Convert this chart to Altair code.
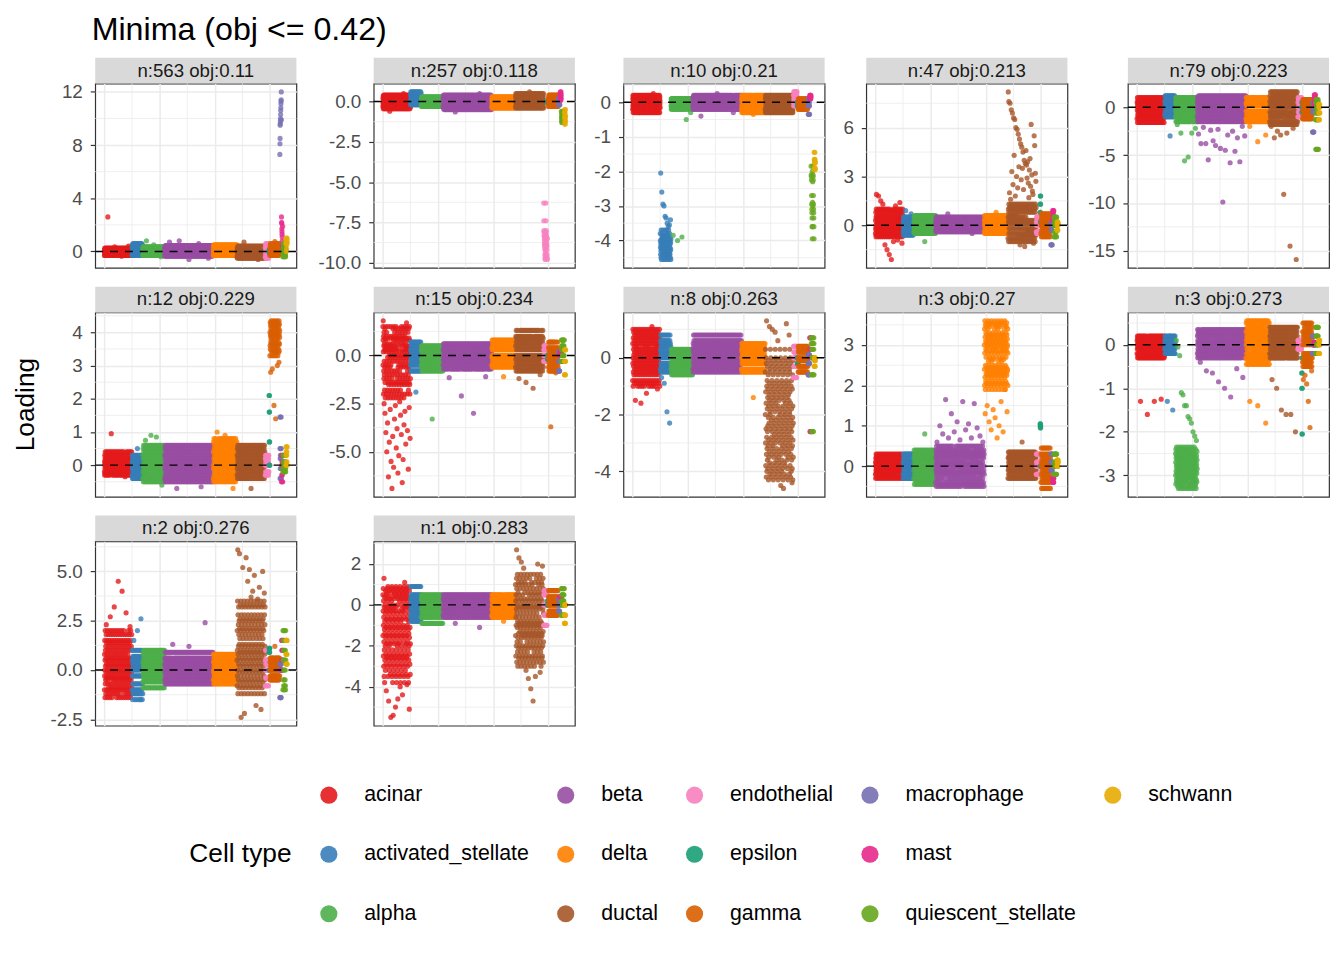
import altair as alt
import pandas as pd

# ---------------- data ----------------
TYPES = ["acinar", "activated_stellate", "alpha", "beta", "delta", "ductal",
         "endothelial", "epsilon", "gamma", "macrophage", "mast",
         "quiescent_stellate", "schwann"]
CODES = ["ac", "as_", "al", "be", "de", "du", "en", "ep", "ga", "ma", "mt", "qs", "sc"]
COLORS = ["#E41A1C", "#377EB8", "#4DAF4A", "#984EA3", "#FF7F00", "#A65628",
          "#F781BF", "#1B9E77", "#D95F02", "#7570B3", "#E7298A", "#66A61E", "#E6AB02"]
# cells per type (x extent, cells ordered by type) and number of points drawn
TYPE_CELLS = [500, 195, 395, 880, 430, 510, 70, 15, 180, 30, 25, 55, 25]
TYPE_SHOWN = [250, 98, 198, 440, 215, 255, 35, 8, 90, 15, 12, 27, 12]

PANEL_N = [563, 257, 10, 47, 79, 12, 15, 8, 3, 3, 2, 1]
PANEL_OBJ = ["0.11", "0.118", "0.21", "0.213", "0.223", "0.229", "0.234",
             "0.263", "0.27", "0.273", "0.276", "0.283"]
PANEL_TICKS = [[0, 4, 8, 12], [-10, -7.5, -5, -2.5, 0], [-4, -3, -2, -1, 0],
               [0, 3, 6], [-15, -10, -5, 0], [0, 1, 2, 3, 4], [-5, -2.5, 0],
               [-4, -2, 0], [0, 1, 2, 3], [-3, -2, -1, 0], [-2.5, 0, 2.5, 5],
               [-4, -2, 0, 2]]
PANEL_FMT = ["d", ".1f", "d", "d", "d", "d", ".1f", "d", "d", "d", ".1f", "d"]
X_MAJOR = [0, 1000, 2000, 3000]
X_MINOR = [500, 1500, 2500]

# main = dense band (cycled over the cells of a type), extra = single points
P01 = dict(
    ac=[-0.3, 0.1, -0.1, 0.25, -0.2, 0.0, 0.2, -0.25, 0.1, -0.05],
    as_=[-0.3, 0.3, 0.0, 0.5, -0.2, 0.15, 0.4, -0.1, 0.6],
    al=[-0.3, 0.2, 0.0, 0.35, -0.2, 0.1, -0.1, 0.3],
    be=[-0.35, 0.2, 0.0, 0.4, -0.2, 0.1, 0.3, -0.1, 0.45, -0.3],
    de=[-0.3, 0.3, 0.0, 0.45, -0.2, 0.1, 0.5, -0.1, 0.2],
    du=[-0.45, 0.1, -0.3, 0.3, -0.1, 0.2, -0.5, 0.0, 0.4, -0.2],
    en=[-0.4, 0.3, 0.0, 0.5, -0.2, 0.6, -0.5, 0.2],
    ep=[0.0, 0.1, -0.1],
    ga=[-0.3, 0.3, 0.0, 0.5, -0.2, 0.2, 0.6, 0.1, -0.1, 0.4],
    ma=[7.3, 8.1, 8.5, 9.5, 9.6, 9.8, 10.0, 10.3, 10.6, 10.8, 11.1, 11.3, 11.4, 12.0, 9.9],
    mt=[2.6, 2.2, 2.1, 1.7, 1.5, 1.3, 1.1, 0.8, 0.5, 0.2, 1.9, 0.3],
    qs=[-0.4, 0.2, 0.0, 0.6, -0.2, 0.4, 0.1, -0.3],
    sc=[0.6, 0.9, 1.0, 0.7, 0.0, 0.8, 0.2, 0.5])
O01 = dict(ac=[2.6, 0.35, -0.35, 0.4], al=[0.8, 0.5, -0.4], be=[0.7, 0.8, -0.6, 0.6, -0.5],
           du=[0.7, -0.6], ga=[0.75])

P02 = dict(
    ac=[-0.3, 0.2, -0.1, 0.35, -0.45, 0.0, 0.1, -0.2, 0.4, -0.35],
    as_=[0.0, 0.4, -0.2, 0.6, 0.2, -0.1, 0.5, 0.1, 0.3],
    al=[-0.2, 0.1, -0.3, 0.2, 0.0, -0.1, 0.3, -0.25],
    be=[-0.3, 0.2, 0.0, 0.4, -0.4, 0.1, -0.1, 0.3, -0.5, -0.2],
    de=[-0.3, 0.1, -0.1, 0.3, -0.4, 0.2, 0.0, -0.2],
    du=[-0.3, 0.3, 0.0, 0.5, -0.4, 0.2, -0.1, 0.4, -0.2, 0.1],
    en=[-6.3, -7.4, -8.0, -8.1, -8.3, -8.4, -8.6, -8.8, -8.9, -9.0, -9.2, -9.5,
        -9.7, -9.8, -8.5, -9.1, -8.2, -9.4, -8.7, -9.6],
    ep=[0.0, -0.1, 0.1],
    ga=[-0.3, 0.2, 0.0, 0.4, -0.2, 0.1, 0.3, -0.1],
    ma=[0.0, 0.2, -0.2, 0.1],
    mt=[0.5, 0.3, 0.1, 0.6, 0.2, 0.4],
    qs=[-0.6, -1.0, -1.2, -0.8, -1.3, -0.7, -0.9, -1.1],
    sc=[-0.7, -1.0, -1.4, -0.5, -1.2, -0.9])
O02 = dict(ac=[-0.6, 0.5], be=[-0.65, 0.5], du=[0.6])

P03 = dict(
    ac=[-0.2, 0.1, -0.1, 0.2, 0.0, -0.3, 0.15, -0.05, 0.05, -0.15],
    as_=[-3.8, -4.0, -4.2, -4.4, -3.9, -4.1, -4.3, -4.5, -3.7, -4.05, -4.25, -4.55,
         -3.95, -4.15, -4.35, -3.85, -4.45],
    al=[-0.1, 0.1, -0.2, 0.05, 0.0, -0.15, 0.1, -0.05],
    be=[-0.1, 0.1, -0.2, 0.15, 0.0, -0.05, 0.2, -0.15, 0.05],
    de=[-0.2, 0.1, -0.1, 0.2, -0.3, 0.0, 0.05, -0.25],
    du=[-0.2, 0.1, -0.3, 0.2, 0.0, -0.1, 0.15, -0.25],
    en=[0.0, 0.2, -0.1, 0.3, 0.1],
    ep=[0.0, -0.1],
    ga=[-0.2, 0.0, 0.1, -0.1, 0.05, -0.15],
    ma=[0.1, -0.1, -0.35, 0.0],
    mt=[0.1, 0.2, 0.15],
    qs=[-1.85, -2.1, -2.15, -2.25, -2.7, -2.95, -3.1, -3.2, -3.35, -3.6, -3.95,
        -2.0, -3.6, -2.9, -2.3, -3.0],
    sc=[-1.45, -1.65, -1.7, -1.9, -1.95, -1.75])
O03 = dict(ac=[-0.3, 0.25], as_=[-2.05, -2.6, -2.95, -3.0, -3.3, -3.35, -3.5, -3.6, -3.55, -3.4],
           al=[-3.85, -4.0, -3.9, -0.5, -0.3], be=[-0.4, 0.25, -0.3], de=[-0.35])

P04 = dict(
    ac=[-0.5, 0.3, -0.2, 0.8, 0.0, -0.7, 0.5, -0.3, 1.0, 0.2, -0.6, 0.6, 0.1, -0.1,
        0.4, -0.4, 0.9],
    as_=[-0.4, 0.2, -0.6, 0.5, 0.0, -0.2, 0.3, -0.5, 0.1],
    al=[-0.4, 0.2, -0.2, 0.5, 0.0, -0.5, 0.3, -0.1, 0.6],
    be=[-0.3, 0.2, 0.0, 0.4, -0.4, 0.1, 0.5, -0.2, 0.3, -0.1],
    de=[-0.4, 0.3, 0.0, 0.6, -0.5, 0.1, 0.4, -0.2, 0.2, -0.3],
    du=[-0.8, 0.5, -0.3, 1.0, 0.2, -1.0, 0.8, 0.0, 1.3, -0.5, 0.3, -0.2, 0.6, -0.6,
        1.1, 0.1],
    en=[-0.4, 0.2, 0.0, 0.5, -0.5, 0.3],
    ep=[0.8, 1.3, 1.8, 0.2],
    ga=[-0.5, 0.3, 0.0, 0.7, -0.7, 0.2, 0.5, -0.3, 0.1, -0.1],
    ma=[-1.2, 0.0, 0.2, -0.3],
    mt=[0.3, 0.9, 0.6, 0.8, 0.4],
    qs=[-0.7, 0.5, 0.0, -0.4, 0.3, 0.1],
    sc=[-0.3, 0.2, 0.0, 0.1])
O04 = dict(ac=[1.9, 1.8, 1.5, 1.3, -1.2, -1.5, -1.8, -2.1, -1.0, 1.2, -0.9, 1.4, -1.1],
           as_=[0.9, 0.7], al=[-1.0], be=[0.7, -0.5], de=[0.8],
           du=[8.2, 7.6, 2.0, 7.5, 1.6, 7.1, 3.3, 6.9, 2.5, 6.6, 4.3, 6.5, 1.8, 6.0, 3.0,
               5.9, 2.3, 5.6, 3.6, 5.3, -1.2, 5.0, 2.8, 4.8, 3.5, 4.5, 2.2, 4.0, -1.3, 3.8,
               4.6, 3.7, 2.9, 3.9, 2.6, 1.7, 3.4, 4.1, 2.4, 6.2, 3.1, 2.1, 1.9, -1.1, 5.5,
               4.9, 3.2, 2.7])

P05 = dict(
    ac=[-1.2, 0.5, -0.3, 1.0, -1.6, 0.2, -0.8, 0.7, 0.0, -0.5, 0.4, -1.0],
    as_=[-0.8, 0.6, 0.0, 1.2, -0.5, 0.3, -1.0, 0.9],
    al=[-1.0, 0.5, -0.3, 1.0, -1.5, 0.2, -0.6, 0.7],
    be=[-1.0, 0.5, -0.3, 1.0, -1.5, 0.2, -0.7, 0.8, 0.0, -1.2, 1.2],
    de=[-1.2, 0.4, -0.4, 1.0, -1.5, 0.2, -0.8, 0.6],
    du=[-1.5, 0.6, -0.5, 1.2, -1.8, 0.2, -1.0, 1.6, 0.0, -0.7, 0.9],
    en=[-1.0, 0.5, 0.0, 1.0, -0.5, 0.8],
    ep=[0.0, -0.5, 0.5],
    ga=[-1.2, 0.4, -0.3, 0.8, -0.8, 0.2],
    ma=[-2.6, 0.0, 0.5, -0.5],
    mt=[0.5, 1.3, 0.9, 1.1, 0.2],
    qs=[-1.3, 0.5, -4.4, 0.0, -0.6, 0.8],
    sc=[-1.3, 0.3, 0.0, -0.6])
O05 = dict(as_=[-3.0], al=[-1.8, -2.7, -5.6, -5.2, -2.7, -2.2],
           be=[-2.8, -3.8, -2.1, -3.8, -5.5, -2.4, -3.5, -4.0, -2.3, -4.3, -9.9, -4.5,
               -2.9, -5.8, -2.5, -4.6, -3.2, -5.7, -2.0, -3.0],
           de=[-2.0, -3.6, -2.9],
           du=[-2.0, -3.2, -2.5, -2.9, -9.1, -2.7, -14.5, -2.2, -15.9])

P06 = dict(
    ac=[-0.2, 0.1, -0.3, 0.3, 0.0, -0.1, 0.2, 0.4, -0.25, 0.05, 0.15, -0.05],
    as_=[-0.3, 0.1, -0.1, 0.3, -0.4, 0.0, 0.2, -0.2],
    al=[-0.4, 0.3, -0.2, 0.5, 0.0, -0.5, 0.2, 0.6, -0.1, 0.4, -0.3, 0.1],
    be=[-0.4, 0.3, -0.1, 0.5, 0.0, -0.5, 0.2, 0.6, -0.3, 0.1, -0.2, 0.4],
    de=[-0.4, 0.4, -0.1, 0.7, 0.0, -0.5, 0.2, 0.8, -0.3, 0.5, 0.1, -0.2, 0.6, 0.3],
    du=[-0.3, 0.3, -0.1, 0.5, 0.0, -0.4, 0.2, 0.6, 0.1, -0.2, 0.4],
    en=[-0.3, 0.2, 0.0, 0.3, -0.2, 0.1],
    ep=[2.1, 1.6, 0.7, 0.0],
    ga=[3.3, 4.0, 3.6, 4.3, 3.5, 3.9, 4.2, 3.4, 3.7, 4.1, 3.8, 4.35, 3.45, 3.95, 4.25,
        3.65, 3.85, 4.05],
    ma=[1.45, 0.5, -0.4, 0.2, -0.1, 0.3],
    mt=[-0.5, 0.3, -0.3, 0.0, 0.1],
    qs=[-0.2, 0.3, 0.0, 0.1, -0.1],
    sc=[0.0, 0.55, 0.3, 0.4, 0.1])
O06 = dict(ac=[0.95, -0.35], as_=[0.5], al=[0.75, 0.9, 0.85, -0.6], be=[-0.7, -0.65],
           de=[1.0, 0.9, -0.7], du=[-0.7], ga=[2.8, 2.9, 1.8, 1.4, 3.0, 3.1])

P07 = dict(
    ac=[1.5, -0.5, 0.8, -1.5, 0.2, -2.0, 1.0, -0.8, 0.5, -1.2, 1.2, 0.0, -0.3, -1.0,
        0.6, -1.8, 0.3, -0.6, 1.4, -0.1, -1.4, 0.9, -2.2, 0.4],
    as_=[-0.5, 0.3, -0.2, 0.7, 0.0, -0.8, 0.5, -0.4, 0.2],
    al=[-0.5, 0.3, -0.2, 0.5, 0.0, -0.8, 0.2, -0.4, 0.4, -0.6],
    be=[-0.5, 0.3, -0.2, 0.6, 0.0, -0.7, 0.4, -0.3, 0.2, -0.1],
    de=[-0.5, 0.4, -0.1, 0.8, 0.0, -0.6, 0.3, 0.6, -0.3],
    du=[-0.6, 0.5, -0.2, 1.0, 0.0, -0.8, 0.7, 1.3, -0.4, 0.3, 0.9, -0.1],
    en=[-0.3, 0.3, 0.0, 0.5],
    ep=[0.0, -0.2],
    ga=[-0.6, 0.4, -0.2, 0.7, 0.0, -0.8, 0.2, -0.4],
    ma=[-0.8, 0.2, -0.3],
    mt=[0.0, 0.2, 0.1],
    qs=[-0.3, 0.8, 0.3, 0.5, 0.0],
    sc=[-1.0, -0.3, 0.3])
O07 = dict(ac=[1.8, -2.5, -3.0, -4.0, -5.0, -3.5, -6.3, -4.5, -2.8, -5.5, -6.9, -4.2,
               -5.8, -3.3, -2.6, -4.8, -3.8, -6.1, -5.2, -2.4, -3.1, -4.1, -6.6, -5.4,
               -3.6, -2.9, -4.6, 1.7, -3.9, -5.9, -2.7, -4.3],
           as_=[-1.9], al=[-3.3], be=[-1.15, -2.1, -3.0, -1.1], de=[-1.1],
           du=[-1.2, -1.4, -1.7, -1.0], ga=[-3.7, -0.9])

P08 = dict(
    ac=[-0.8, 0.5, -0.2, 1.0, 0.0, -1.0, 0.7, -0.5, 0.3, -0.3, 0.9, 0.1, -0.6, 0.6,
        -0.1, 0.4, -0.9, 0.2, -0.4, 0.8],
    as_=[-0.4, 0.3, 0.0, 0.6, -0.5, 0.8, 0.2, -0.2, 0.5, 0.1, -0.3, 0.4],
    al=[-0.4, 0.1, -0.2, 0.3, 0.0, -0.6, -0.3, 0.2, -0.1, -0.5],
    be=[-0.4, 0.3, 0.0, 0.5, -0.5, 0.2, 0.8, -0.2, 0.4, -0.1, 0.6, 0.1, -0.3],
    de=[-0.4, 0.3, 0.0, 0.5, -0.5, 0.2, -0.2, 0.4, -0.1, 0.1],
    du=[-0.5, -2.0, 0.3, -3.0, -1.2, -3.8, 0.0, -2.5, -1.6, -4.2, -0.2, -3.4, -2.2,
        -2.8, -1.0, -4.0, -3.2, -0.8, -1.8, -3.6, -2.6, -0.3, -1.4, -2.4, -3.9, -1.1,
        -3.1, -0.6, -2.1, -4.3, -1.7, -2.9, -0.1, -3.5, -2.3, -1.3, -3.3, -0.9, -2.7,
        -1.5, -3.7, -0.4, -4.1, -1.9],
    en=[-0.7, 0.4, 0.0, 0.2, -0.3],
    ep=[0.0, -0.2],
    ga=[-0.5, 0.4, 0.0, 0.2, -0.3, 0.3, -0.1],
    ma=[-0.6, 0.1, -0.2],
    mt=[0.7, 0.3, -2.6, 0.0],
    qs=[0.7, 0.5, -0.6, -2.6, 0.0, 0.3],
    sc=[-0.3, 0.0, -0.1])
O08 = dict(ac=[-1.5, -1.6, -1.25, 1.1, -1.1], as_=[-0.7, -0.9, -1.9, -2.3], de=[-1.4],
           du=[1.3, 1.1, 1.0, 0.9, 0.6, -4.5, -4.6, 1.2, 0.8, -4.4])

P09 = dict(
    ac=[-0.2, 0.1, -0.3, 0.2, 0.0, -0.1, 0.3, 0.05, -0.15, 0.25, -0.05, 0.15, -0.25],
    as_=[-0.2, 0.1, -0.3, 0.3, 0.0, 0.2, -0.1],
    al=[-0.3, 0.2, -0.1, 0.4, 0.0, -0.45, 0.3, -0.2, 0.1, -0.35, 0.25, -0.05, 0.15],
    be=[-0.4, 0.2, -0.1, 0.4, 0.0, -0.5, 0.3, -0.2, 0.5, 0.1, -0.3, 0.05, -0.45, 0.35,
        -0.15, 0.25],
    de=[3.0, 2.4, 3.4, 2.0, 2.8, 3.6, 2.2, 3.2, 2.6, 1.9, 3.5, 2.5, 3.1, 2.1, 2.9, 3.3,
        2.7, 2.3, 3.05, 2.45, 3.45, 2.05, 2.85, 3.55, 2.25, 3.25, 2.65, 2.95, 2.35, 3.15],
    du=[-0.3, 0.2, -0.1, 0.35, 0.0, -0.2, 0.1, 0.25, -0.05],
    en=[-0.2, 0.3, 0.0, 0.1],
    ep=[1.05, 1.0, 0.95, 0.0],
    ga=[-0.4, 0.3, 0.0, 0.45, -0.2, 0.1, -0.55, 0.2, -0.1, -0.3],
    ma=[-0.1, 0.3, 0.1],
    mt=[-0.4, -0.3],
    qs=[-0.2, 0.3, 0.0, 0.1],
    sc=[0.0, 0.15, 0.1])
O09 = dict(al=[0.8],
           be=[0.6, 1.0, 0.8, 1.65, 0.7, 1.3, 0.85, 1.1, 0.65, 1.6, 0.9, 1.05, 0.7, 1.55,
               0.95, 0.75, 0.6],
           de=[1.3, 1.5, 1.1, 0.9, 1.4, 1.2, 0.7, 1.0, 1.6, 0.85, 1.9, 1.35],
           du=[0.6])

P10 = dict(
    ac=[-0.2, 0.1, -0.1, 0.2, 0.0, -0.3, 0.15, -0.05, 0.05, -0.25],
    as_=[-0.1, 0.1, 0.0, 0.2, -0.2, 0.05, -0.05],
    al=[-2.5, -3.0, -2.7, -3.2, -2.4, -2.9, -2.6, -3.3, -2.8, -3.1, -2.35, -2.55,
        -2.75, -2.95, -3.15, -2.45, -2.65, -2.85, -3.05, -3.25],
    be=[-0.2, 0.2, 0.0, 0.35, -0.3, 0.1, -0.1, 0.25, 0.05, -0.15, 0.3, -0.25],
    de=[-0.3, 0.3, 0.0, 0.5, -0.45, 0.1, -0.2, 0.55, 0.2, -0.1, 0.4, -0.35, 0.15],
    du=[-0.2, 0.2, 0.0, 0.4, -0.3, 0.1, -0.1, 0.3],
    en=[-0.1, 0.1, 0.0],
    ep=[-0.65, -1.0, -2.05, -0.3],
    ga=[-0.4, 0.3, 0.0, 0.5, -0.5, 0.2, -0.2, 0.4, -0.3, 0.1],
    ma=[-0.2, 0.2, 0.0],
    mt=[0.0, 0.05],
    qs=[-0.2, 0.4, 0.0, 0.2],
    sc=[-0.2, 0.1, 0.0])
O10 = dict(ac=[-1.3, -1.6, -1.3, -1.25], as_=[-1.3, -1.5],
           al=[0.1, -0.05, -0.25, -1.1, -1.15, -1.4, -1.4, -1.65, -1.7, -1.8, -2.0, -2.1, -2.2],
           be=[-0.4, -0.6, -0.65, -0.85, -1.0, -1.2, -0.55, -0.75],
           de=[-1.3, -1.4, -1.8], du=[-0.8, -1.0, -1.5, -1.6, -1.6, -2.0],
           ga=[-0.8, -0.7, -0.9, -1.3, -1.9, -0.6])

P11 = dict(
    ac=[-1.0, 0.8, -0.3, 1.5, 0.0, -1.4, 0.5, 2.0, -0.7, 1.0, 0.2, -0.5, 1.2, -1.2,
        0.6, -0.1, 1.8, -0.9, 0.3, 1.4, -0.4],
    as_=[-1.0, 0.5, -0.3, 1.0, 0.0, -1.5, 0.3, -0.7, 0.7, -1.2, 0.1],
    al=[-0.6, 0.4, -0.2, 0.8, 0.0, -0.9, 0.2, 1.0, -0.4, 0.6],
    be=[-0.5, 0.3, -0.1, 0.6, 0.0, -0.7, 0.2, 0.9, -0.3, 0.45],
    de=[-0.5, 0.4, -0.1, 0.8, 0.0, -0.7, 0.2, 0.6, -0.3],
    du=[0.5, -0.8, 2.0, 1.0, -0.3, 3.5, 0.0, 1.5, -1.2, 2.8, 0.8, -0.5, 2.3, 1.2, 3.2,
        0.3, 1.8, -0.9, 0.6, 2.5, 1.3, -0.1, 3.0, 2.1, -0.6, 1.6, 0.9, 2.6, 0.2, 3.3],
    en=[-0.8, 0.5, 0.0, 1.0, -0.4, 0.3],
    ep=[0.9, 1.1, 0.0],
    ga=[-0.5, 0.4, 0.0, 0.6, -0.3, 0.2],
    ma=[-1.4, 0.3, 0.0],
    mt=[0.0, 1.5, 0.5, 1.0],
    qs=[-1.0, 2.0, 0.5, 1.5, -0.5, 0.0, 1.0, -0.8],
    sc=[0.8, 1.5, 0.3])
O11 = dict(ac=[2.3, 2.7, 3.2, 4.5, 4.0, 2.9, 2.2], as_=[1.5, 2.0, 2.6], be=[1.3, 1.2, 2.4],
           du=[6.1, 5.9, -2.4, 5.2, -2.2, 5.7, 4.5, 5.1, 3.7, 4.0, 4.8, -1.8, 3.6, 4.2,
               -2.0, 5.0, 3.9], ga=[1.2])

P12 = dict(
    ac=[0.5, -1.5, -0.3, 0.8, -2.5, -1.0, 0.2, -3.0, -0.6, -1.8, 0.9, -3.5, -0.1, -2.2,
        -1.2, 0.4, -3.8, -0.8, -2.7, -1.4, 0.0, -2.0, -0.4, -3.2, 0.7, -1.6, -2.4, -0.2,
        -2.9, -1.1, 0.3, -3.4, -0.7, -1.9, 0.6, -2.6],
    as_=[-0.6, 0.3, -0.2, 0.9, 0.0, -0.8, 0.5, -0.4, 0.2],
    al=[-0.6, 0.3, -0.2, 0.5, 0.0, -0.9, 0.2, -0.4, 0.4],
    be=[-0.5, 0.3, -0.2, 0.5, 0.0, -0.6, 0.2, -0.3, 0.4],
    de=[-0.5, 0.3, -0.2, 0.5, 0.0, -0.6, 0.2, -0.3],
    du=[1.0, -1.5, 0.2, -2.5, -0.6, 0.5, -1.0, -2.0, -0.2, 1.3, -1.3, 0.8, -2.8, -0.4,
        -1.8, 0.0, -1.1, 1.5, -2.3, -0.8, 0.3, -3.0, -1.6, 0.6, -0.1, -2.1, 1.1, -1.4,
        -0.9, -2.6],
    en=[-1.0, 0.5, 0.0, 0.7, -0.5],
    ep=[0.0, 0.2],
    ga=[-0.5, 0.4, 0.0, 0.7, -0.3, 0.2],
    ma=[-0.3, 0.3, 0.0],
    mt=[0.4, 0.4],
    qs=[-0.5, 0.8, 0.2, 0.5, 0.0],
    sc=[-0.9, -0.5, 0.0])
O12 = dict(ac=[1.3, -4.2, -4.7, -5.5, -5.4, -5.0, -4.6, -4.0, -4.4, 1.1, -3.9, -5.1],
           be=[-0.9, -1.1], de=[-0.8],
           du=[2.7, 2.3, 2.1, 1.8, -3.2, -3.6, -4.1, -4.7, -3.5, 2.0, -3.3, 1.9])

PANELS = [(P01, O01), (P02, O02), (P03, O03), (P04, O04), (P05, O05), (P06, O06),
          (P07, O07), (P08, O08), (P09, O09), (P10, O10), (P11, O11), (P12, O12)]

# ---------------- build the tables ----------------
frames = []
for main, extra in PANELS:
    rows = []
    start = 0.0
    for t, code, cells, n in zip(TYPES, CODES, TYPE_CELLS, TYPE_SHOWN):
        base = main[code]
        vals = [base[k % len(base)] for k in range(n)]
        ex = extra.get(code, [])
        for j, v in enumerate(ex):
            vals[int((j + 0.5) * n / len(ex))] = v
        for k in range(n):
            rows.append({"x": start + (k + 0.5) * cells / n, "y": vals[k], "type": t})
        start += cells
    frames.append(pd.DataFrame(rows))

TOTAL = float(sum(TYPE_CELLS))
XDOM = [-0.05 * TOTAL, 1.05 * TOTAL]

W, H = 203, 186
COL_EXTENT = [50, 65, 36, 29, 48]
BORDER = "#333333"
GRID = "#EBEBEB"

# the legend is filled column by column over 3 rows; two empty slots complete the grid
LEG_DOMAIN = TYPES + [" ", "  "]
LEG_RANGE = COLORS + ["transparent", "transparent"]

legend = alt.Legend(title="Cell type", orient="none", legendX=95, legendY=707,
                    columns=5, symbolType="circle", symbolSize=300, symbolStrokeWidth=0,
                    symbolOpacity=0.9, labelFontSize=21.5, labelColor="black",
                    labelLimit=400, labelOffset=25, titleFontSize=26.5,
                    titleFontWeight="normal", titleColor="black", titleOrient="left",
                    titleAnchor="middle", titlePadding=26, columnPadding=26,
                    rowPadding=37)
color = alt.Color("type:N", scale=alt.Scale(domain=LEG_DOMAIN, range=LEG_RANGE),
                  legend=legend)

xaxis = alt.Axis(values=X_MAJOR, labels=False, ticks=False, domain=False, title=None,
                 grid=True, gridColor=GRID, gridWidth=1.5, minExtent=6, maxExtent=6,
                 orient="bottom")
xminor_df = pd.DataFrame({"v": X_MINOR})

panels = []
for i, d in enumerate(frames):
    ticks = PANEL_TICKS[i]
    lo, hi = float(d["y"].min()), float(d["y"].max())
    span = hi - lo
    dom = [lo - 0.05 * span, hi + 0.05 * span]
    step = ticks[1] - ticks[0]
    cand = [ticks[0] - step / 2] + [t + step / 2 for t in ticks]
    minors = [m for m in cand if dom[0] <= m <= dom[1]]
    ext = COL_EXTENT[i % 5]
    yscale = alt.Scale(domain=dom, nice=False, zero=False)
    xscale = alt.Scale(domain=XDOM, nice=False, zero=False)
    yaxis = alt.Axis(
        values=ticks, title=None, grid=True, gridColor=GRID, gridWidth=1.5,
        labelExpr=f"replace(format(datum.value, '{PANEL_FMT[i]}'), '\u2212', '-')",
        labelOverlap=False, labelFontSize=19, labelColor="#4D4D4D", labelPadding=8,
        tickColor=BORDER, tickSize=5, tickWidth=1.2, domain=False,
        minExtent=ext, maxExtent=ext, orient="left")

    ymin_rules = alt.Chart(pd.DataFrame({"v": minors})).mark_rule(
        color=GRID, strokeWidth=0.8).encode(y=alt.Y("v:Q", scale=yscale, axis=None))
    xmin_rules = alt.Chart(xminor_df).mark_rule(color=GRID, strokeWidth=0.8).encode(
        x=alt.X("v:Q", scale=xscale, axis=None))
    pts = alt.Chart(d).mark_circle(size=27, opacity=0.8).encode(
        x=alt.X("x:Q", scale=xscale, axis=xaxis),
        y=alt.Y("y:Q", scale=yscale, axis=yaxis),
        color=color)
    lab = pd.DataFrame({"s": [f"n:{PANEL_N[i]} obj:{PANEL_OBJ[i]}"]})
    zero = alt.Chart(lab).mark_rule(color="black", strokeDash=[8, 7], strokeWidth=1.4).encode(
        y=alt.YDatum(0, axis=None))
    strip = alt.Chart(lab).mark_rect(color="#D9D9D9").encode(
        x=alt.value(0), x2=alt.value(W), y=alt.value(-26), y2=alt.value(0))
    stxt = alt.Chart(lab).mark_text(fontSize=18.8, color="#1A1A1A", baseline="middle").encode(
        x=alt.value(W / 2), y=alt.value(-13), text="s:N")
    layers = [ymin_rules, xmin_rules, pts, zero, strip, stxt]
    if i == 5:
        ylab = alt.Chart(pd.DataFrame({"t": ["Loading"]})).mark_text(
            fontSize=26.5, color="black", angle=270, baseline="middle").encode(
            x=alt.value(-70), y=alt.value(H / 2), text="t:N")
        layers.append(ylab)
    panels.append(alt.layer(*layers).resolve_axis(x="independent", y="independent")
                  .properties(width=W, height=H))

chart = alt.concat(
    *panels, columns=5, spacing={"row": 11, "column": 10},
    title=alt.TitleParams("Minima (obj <= 0.42)", anchor="start", fontSize=32.5,
                          fontWeight="normal", color="black", dx=80, offset=11),
).resolve_scale(x="independent", y="independent", color="shared").properties(
    padding={"left": 4, "top": 1, "right": 5, "bottom": 5}
).configure(font="Liberation Sans").configure_view(stroke=BORDER, strokeWidth=1.2)

chart.save("out.html", embed_options={"renderer": "svg", "actions": False})
